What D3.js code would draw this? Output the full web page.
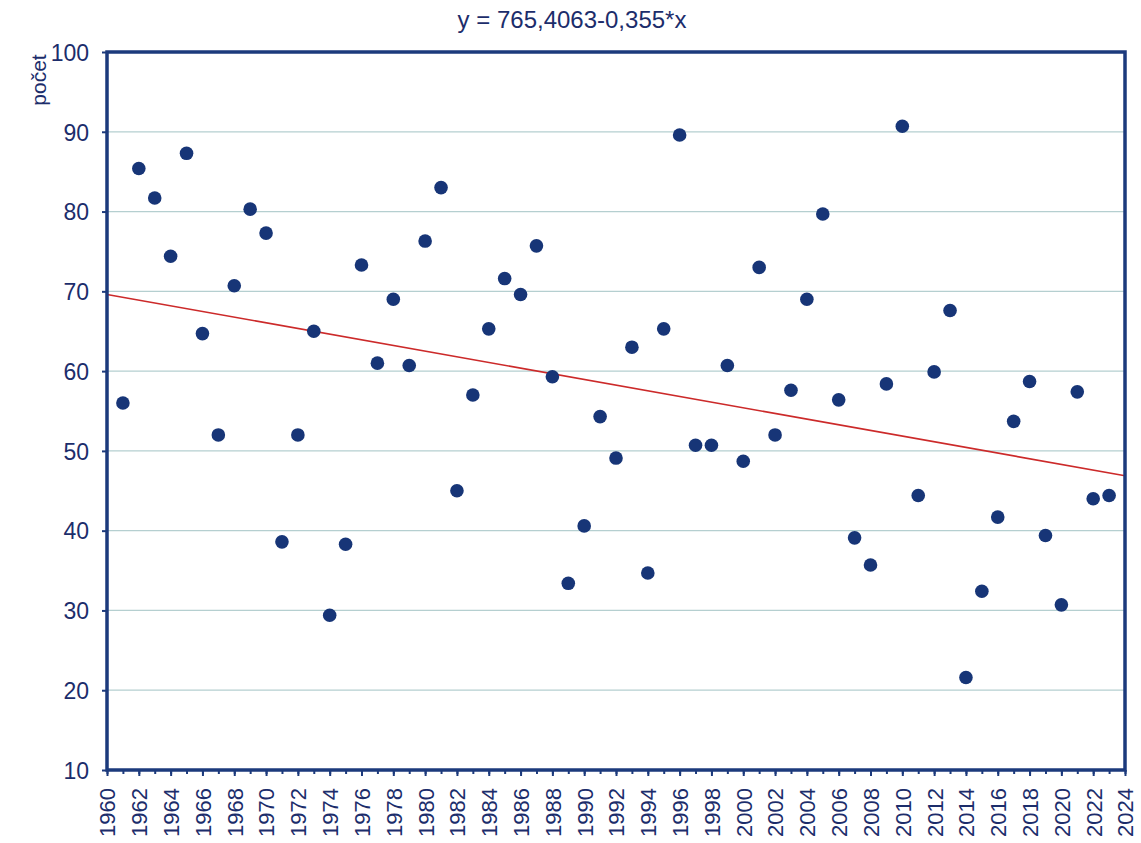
<!DOCTYPE html>
<html>
<head>
<meta charset="utf-8">
<script src="https://cdn.jsdelivr.net/npm/d3@7"></script>
<style>
  html, body { margin: 0; padding: 0; background: #ffffff; }
  svg { display: block; }
  text { font-family: "Liberation Sans", Arial, sans-serif; fill: #1c2d6b; }
</style>
</head>
<body>
<svg id="chart" width="1141" height="843"></svg>
<script>
// Annual counts, 1961–2023
const years = d3.range(1961, 2024);
const counts = [
  56.0, 85.4, 81.7, 74.4, 87.3, 64.7, 52.0, 70.7, 80.3, 77.3,
  38.6, 52.0, 65.0, 29.4, 38.3, 73.3, 61.0, 69.0, 60.7, 76.3,
  83.0, 45.0, 57.0, 65.3, 71.6, 69.6, 75.7, 59.3, 33.4, 40.6,
  54.3, 49.1, 63.0, 34.7, 65.3, 89.6, 50.7, 50.7, 60.7, 48.7,
  73.0, 52.0, 57.6, 69.0, 79.7, 56.4, 39.1, 35.7, 58.4, 90.7,
  44.4, 59.9, 67.6, 21.6, 32.4, 41.7, 53.7, 58.7, 39.4, 30.7,
  57.4, 44.0, 44.4
];
// Linear trend: y = intercept + slope * x
const trendIntercept = 765.4063;
const trendSlope = -0.355;
const trendLabel = "y = 765,4063-0,355*x";

const xTicks = d3.range(1960, 2025, 2);
const yTicks = d3.range(10, 101, 10);
const xDomain = [1960, 2024];
const yDomain = [10, 100];
const yTitle = "počet";

const svg = d3.select("#chart");
const m = { left: 107, right: 1125, top: 52, bottom: 770 };

const x = d3.scaleLinear().domain(xDomain).range([m.left, m.right]);
const y = d3.scaleLinear().domain(yDomain).range([m.bottom, m.top]);

const navy = "#1c3a7c";

// horizontal gridlines
svg.append("g")
  .selectAll("line")
  .data(yTicks.filter(v => v > yDomain[0] && v < yDomain[1]))
  .join("line")
  .attr("x1", m.left).attr("x2", m.right)
  .attr("y1", d => y(d)).attr("y2", d => y(d))
  .attr("stroke", "#b5cfd0").attr("stroke-width", 1.2);

// trend line
svg.append("line")
  .attr("x1", x(xDomain[0])).attr("y1", y(trendIntercept + trendSlope * xDomain[0]))
  .attr("x2", x(xDomain[1])).attr("y2", y(trendIntercept + trendSlope * xDomain[1]))
  .attr("stroke", "#cc2a2a").attr("stroke-width", 1.6);

// data points
svg.append("g")
  .selectAll("circle")
  .data(years.map((yr, i) => ({ yr, v: counts[i] })))
  .join("circle")
  .attr("cx", d => x(d.yr))
  .attr("cy", d => y(d.v))
  .attr("r", 6.8)
  .attr("fill", "#173577");

// plot frame
svg.append("rect")
  .attr("x", m.left).attr("y", m.top)
  .attr("width", m.right - m.left).attr("height", m.bottom - m.top)
  .attr("fill", "none").attr("stroke", navy).attr("stroke-width", 3.5);

// y axis
const yAxis = svg.append("g")
  .attr("transform", `translate(${m.left},0)`)
  .call(d3.axisLeft(y).tickValues(yTicks).tickSize(5).tickPadding(13).tickFormat(d3.format("d")));
yAxis.select(".domain").remove();
yAxis.selectAll(".tick line").attr("stroke", navy).attr("stroke-width", 2);
yAxis.selectAll(".tick text")
  .style("font-size", "23px").style("fill", "#1c2d6b").attr("dy", "0.36em");

// x axis: minor ticks each year, labels every two years
const xAxisMinor = svg.append("g")
  .attr("transform", `translate(0,${m.bottom})`)
  .call(d3.axisBottom(x).tickValues(d3.range(1960, 2025, 1)).tickSize(4).tickFormat(""));
xAxisMinor.select(".domain").remove();
xAxisMinor.selectAll(".tick line").attr("stroke", navy).attr("stroke-width", 2);

const xAxis = svg.append("g")
  .attr("transform", `translate(0,${m.bottom})`)
  .call(d3.axisBottom(x).tickValues(xTicks).tickSize(6).tickFormat(d3.format("d")));
xAxis.select(".domain").remove();
xAxis.selectAll(".tick line").attr("stroke", navy).attr("stroke-width", 2);
xAxis.selectAll(".tick text")
  .style("font-size", "22px").style("fill", "#1c2d6b")
  .attr("transform", "rotate(-90)")
  .attr("text-anchor", "end")
  .attr("x", -18).attr("y", 0).attr("dy", "0.36em");

// y-axis title
svg.append("text")
  .attr("transform", `translate(46,80) rotate(-90)`)
  .attr("text-anchor", "middle")
  .style("font-size", "21px")
  .text(yTitle);

// equation title
svg.append("text")
  .attr("x", 572).attr("y", 28)
  .attr("text-anchor", "middle")
  .style("font-size", "24px")
  .text(trendLabel);
</script>
</body>
</html>
